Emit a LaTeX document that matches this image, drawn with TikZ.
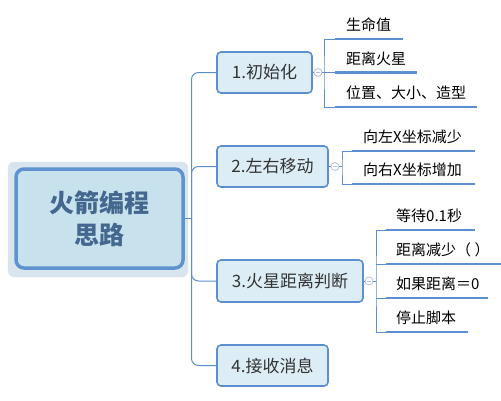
\documentclass[tikz,border=0pt]{standalone}
\usepackage{fontspec}
\setmainfont{Noto Sans CJK SC}
\definecolor{lineblue}{HTML}{5B8FD0}
\definecolor{boxfill}{HTML}{DCEDF5}
\definecolor{textdark}{HTML}{333333}
\definecolor{togcol}{HTML}{B4C0DC}
\definecolor{rootfill}{HTML}{C7E2EC}
\definecolor{rootborder}{HTML}{5F93CF}
\definecolor{halofill}{HTML}{D9E5EE}
\definecolor{roottext}{HTML}{44678F}
\begin{document}
\begin{tikzpicture}[x=1pt,y=-1pt,
  conn/.style={draw=lineblue, line width=1pt},
  uline/.style={draw=lineblue, line width=2.6pt},
  branch/.style={draw=lineblue, fill=boxfill, line width=1.6pt, rounded corners=4pt, text=textdark, font=\fontsize{17}{19}\selectfont, inner sep=0pt, minimum height=41pt},
  rootbox/.style={draw=rootborder, fill=rootfill, line width=3.5pt, rounded corners=8pt, text=roottext, font=\fontsize{25}{32}\selectfont\bfseries, align=center, inner sep=0pt},
  leaf/.style={anchor=base west, inner sep=0pt, font=\fontsize{15}{17}\selectfont, text=black},
  tog/.style={circle, draw=togcol, fill=white, line width=0.8pt, minimum size=8pt, inner sep=0pt,
    path picture={\draw[togcol,line width=0.7pt] ([xshift=2pt]path picture bounding box.west) -- ([xshift=-2pt]path picture bounding box.east);}},
]
\useasboundingbox (0,0) rectangle (501,400);
% root
\fill[halofill, draw=halofill!85!white, rounded corners=6pt] (8,162) rectangle (188,277);
\node[rootbox, minimum width=167pt, minimum height=99pt] (root) at (99.5,218.5) {火箭编程\\思路};
% branches
\node[branch, minimum width=95pt] (b1) at (264.5,72.5) {1.初始化};
\node[branch, minimum width=111pt] (b2) at (272.5,166.5) {2.左右移动};
\node[branch, minimum width=146pt, minimum height=42pt] (b3) at (290,281) {3.火星距离判断};
\node[branch, minimum width=111pt] (b4) at (272.5,365.5) {4.接收消息};
% trunk
\coordinate (trunk) at (191.5,218.5);
\draw[conn] (root.east) -- (trunk);
\draw[conn, rounded corners=7pt] (trunk) |- (b1.west);
\draw[conn, rounded corners=7pt] (trunk) |- (b2.west);
\draw[conn, rounded corners=7pt] (trunk) |- (b3.west);
\draw[conn, rounded corners=7pt] (trunk) |- (b4.west);
% toggles
\node[tog] (t1) at (318,72.5) {};
\node[tog] (t2) at (335,166.5) {};
\node[tog] (t3) at (369,281) {};
\draw[conn] (b1.east) -- (t1.west);
\draw[conn] (b2.east) -- (t2.west);
\draw[conn] (b3.east) -- (t3.west);
% branch 1 leaves
\coordinate (k1) at (324,72.5);
\coordinate (l1a) at (335,39); \coordinate (e1a) at (403,39);
\coordinate (l1b) at (335,72.5); \coordinate (e1b) at (417,72.5);
\coordinate (l1c) at (335,107); \coordinate (e1c) at (477,107);
\draw[conn] (t1.east) -- (k1);
\draw[conn] (l1a) -| (k1) |- (l1c);
\draw[conn] (k1) -- (l1b);
\draw[uline] (l1a) -- (e1a);
\draw[uline] (l1b) -- (e1b);
\draw[uline] (l1c) -- (e1c);
\node[leaf] (n1a) at (346,30) {生命值};
\node[leaf] (n1b) at (346,64) {距离火星};
\node[leaf] (n1c) at (346,98) {位置、大小、造型};
% branch 2 leaves
\coordinate (k2) at (342,166.5);
\coordinate (l2a) at (352,151); \coordinate (e2a) at (475,151);
\coordinate (l2b) at (352,184); \coordinate (e2b) at (475,184);
\draw[conn] (t2.east) -- (k2);
\draw[conn] (l2a) -| (k2) |- (l2b);
\draw[uline] (l2a) -- (e2a);
\draw[uline] (l2b) -- (e2b);
\node[leaf] (n2a) at (363,142) {向左X坐标减少};
\node[leaf] (n2b) at (363,175) {向右X坐标增加};
% branch 3 leaves
\coordinate (k3) at (376,281);
\coordinate (l3a) at (386,230); \coordinate (e3a) at (475,230);
\coordinate (l3b) at (386,264); \coordinate (e3b) at (501,264);
\coordinate (l3c) at (386,298); \coordinate (e3c) at (488,298);
\coordinate (l3d) at (386,332); \coordinate (e3d) at (468,332);
\draw[conn] (t3.east) -- (k3);
\draw[conn] (l3a) -| (k3) |- (l3d);
\draw[conn] (l3b) -- (l3b -| k3);
\draw[conn] (l3c) -- (l3c -| k3);
\draw[uline] (l3a) -- (e3a);
\draw[uline] (l3b) -- (e3b);
\draw[uline] (l3c) -- (e3c);
\draw[uline] (l3d) -- (e3d);
\node[leaf] (n3a) at (396,221) {等待0.1秒};
\node[leaf] (n3b) at (396,255) {距离减少（ ）};
\node[leaf] (n3c) at (396,289) {如果距离＝0};
\node[leaf] (n3d) at (396,323) {停止脚本};
\end{tikzpicture}
\end{document}
